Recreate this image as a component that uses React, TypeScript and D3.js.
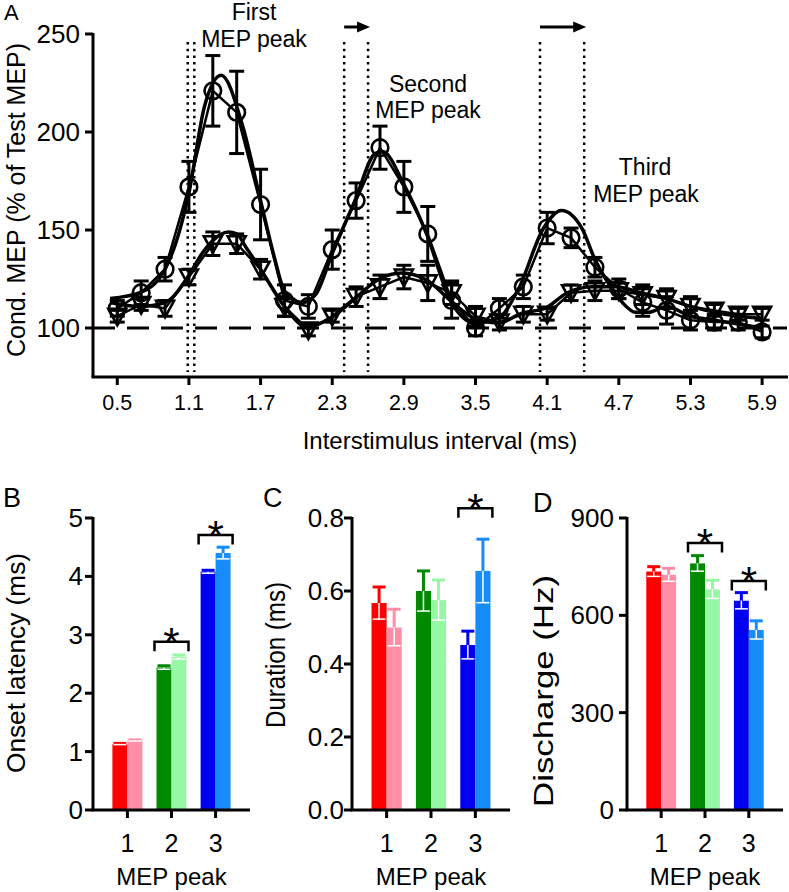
import React from 'react';
import * as d3 from 'd3';

// ---------- Panel A data ----------
const ISI = [0.5, 0.7, 0.9, 1.1, 1.3, 1.5, 1.7, 1.9, 2.1, 2.3, 2.5, 2.7, 2.9, 3.1, 3.3, 3.5, 3.7, 3.9, 4.1, 4.3, 4.5, 4.7, 4.9, 5.1, 5.3, 5.5, 5.7, 5.9];
const CIRCLE_MEAN = [110, 118, 130, 172, 221, 210, 163, 114, 111, 140, 165, 192, 172, 148, 114, 100, 110, 121, 151, 146, 131, 120, 113, 109, 104, 103, 103, 98];
const CIRCLE_SE = [4, 6, 6, 13, 18, 21, 18, 8, 6, 10, 9, 11, 13, 14, 9, 4, 5, 6, 8, 5, 5, 5, 7, 7, 5, 4, 4, 3];
const TRI_MEAN = [106, 112, 110, 126, 143, 143, 130, 111, 99, 106, 116, 121, 126, 123, 118, 106, 103, 107, 107, 118, 119, 119, 117, 115, 111, 109, 107, 107];
const TRI_SE = [3, 3, 4, 4, 6, 5, 5, 5, 3, 3, 5, 6, 6, 9, 6, 5, 4, 4, 3, 4, 5, 4, 5, 5, 5, 3, 3, 3];

const CIRCLE_FIT_X = [0.44, 0.69, 0.9, 1.1, 1.23, 1.37, 1.55, 1.7, 1.82, 1.9, 2.05, 2.16, 2.3, 2.49, 2.66, 2.72, 2.91, 3.09, 3.29, 3.5, 3.69, 3.86, 4.07, 4.22, 4.39, 4.5, 4.61, 4.73, 4.84, 4.95, 5.1, 5.3, 5.5, 5.7, 5.9];
const CIRCLE_FIT_Y = [115, 118, 130, 169, 213, 229, 203, 165, 135, 119, 113, 117, 138, 165, 189, 190, 172, 148, 114, 102.5, 105, 120, 151, 160, 151, 135, 123, 113, 108, 108, 111, 106, 104, 102, 100];
const TRI_FIT_X = [0.44, 0.69, 0.9, 1.09, 1.21, 1.29, 1.43, 1.5, 1.58, 1.7, 1.9, 2.09, 2.3, 2.49, 2.68, 2.88, 3.09, 3.29, 3.47, 3.69, 3.89, 4.08, 4.27, 4.48, 4.68, 4.88, 5.1, 5.3, 5.5, 5.7, 5.9];
const TRI_FIT_Y = [113, 111, 113, 126, 138, 144, 149, 148, 141, 130, 111, 100.5, 105.6, 115, 124.5, 128, 124.5, 114, 105.6, 102.5, 107.6, 110, 118, 121, 121, 118, 115, 111, 108, 106, 105];

const A_X_TICKS = [0.5, 1.1, 1.7, 2.3, 2.9, 3.5, 4.1, 4.7, 5.3, 5.9];
const A_Y_TICKS = [100, 150, 200, 250];
const PERIOD_LINES = [1.09, 1.145, 2.4, 2.6, 4.04, 4.41];
const ARROW_FROM = [2.4, 4.04];
const ARROW_TO = [2.6, 4.41];
const BASELINE_VALUE = 100;

// ---------- Panels B-D data ----------
const PEAKS = ['1', '2', '3'];
const DARK_COLORS = ['#ff0000', '#008a00', '#0000f0'];
const LIGHT_COLORS = ['#ff8ea6', '#96f7a4', '#168cfa'];

const LATENCY_MEAN_1 = [1.13, 2.44, 4.08];
const LATENCY_SE_1 = [0.01, 0.03, 0.025];
const LATENCY_MEAN_2 = [1.19, 2.62, 4.4];
const LATENCY_SE_2 = [0.01, 0.035, 0.1];
const LATENCY_TICKS = [0, 1, 2, 3, 4, 5];
const LATENCY_SIG_PEAKS = ['2', '3'];
const LATENCY_SIG_Y = [2.88, 4.71];

const DURATION_MEAN_1 = [0.567, 0.6, 0.452];
const DURATION_SE_1 = [0.044, 0.055, 0.038];
const DURATION_MEAN_2 = [0.5, 0.575, 0.655];
const DURATION_SE_2 = [0.05, 0.055, 0.087];
const DURATION_TICKS = [0, 0.2, 0.4, 0.6, 0.8];
const DURATION_SIG_PEAKS = ['3'];
const DURATION_SIG_Y = [0.827];

const DISCHARGE_MEAN_1 = [735, 760, 645];
const DISCHARGE_SE_1 = [15, 24, 25];
const DISCHARGE_MEAN_2 = [725, 680, 555];
const DISCHARGE_SE_2 = [20, 28, 28];
const DISCHARGE_TICKS = [0, 300, 600, 900];
const DISCHARGE_SIG_PEAKS = ['2', '3'];
const DISCHARGE_SIG_Y = [823, 706];

const FONT = '"Liberation Sans", Arial, Helvetica, sans-serif';

function PanelA() {
  const x = d3.scaleLinear().domain([0.3, 6.1]).range([93.4, 786]);
  const y = d3.scaleLinear().domain([75, 250]).range([377, 34]);
  const fitLine = d3.line<[number, number]>().x(d => x(d[0])).y(d => y(d[1])).curve(d3.curveMonotoneX);
  const polyLine = d3.line<[number, number]>().x(d => x(d[0])).y(d => y(d[1]));
  const circFit = fitLine(CIRCLE_FIT_X.map((v, i) => [v, CIRCLE_FIT_Y[i]]) as [number, number][]) || '';
  const triFit = fitLine(TRI_FIT_X.map((v, i) => [v, TRI_FIT_Y[i]]) as [number, number][]) || '';
  const circPoly = polyLine(ISI.map((v, i) => [v, CIRCLE_MEAN[i]]) as [number, number][]) || '';
  const triPoly = polyLine(ISI.map((v, i) => [v, TRI_MEAN[i]]) as [number, number][]) || '';
  const capW = 7.5;
  const y0 = 377;
  return (
    <g>
      <text x={4} y={20} fontSize={22}>A</text>
      <text transform={`translate(25,200) rotate(-90)`} textAnchor="middle" fontSize={26} textLength={314} lengthAdjust="spacingAndGlyphs">Cond. MEP (% of Test MEP)</text>
      {PERIOD_LINES.map((v, i) => (
        <line key={'pl' + i} x1={x(v)} x2={x(v)} y1={42} y2={372} stroke="#000" strokeWidth={2.5} strokeDasharray="2.5 4.2" />
      ))}
      {ARROW_FROM.map((v, i) => {
        const x1 = x(v);
        const x2 = x(ARROW_TO[i]) + 2;
        return (
          <g key={'ar' + i}>
            <line x1={x1} x2={x2 - 10} y1={27} y2={27} stroke="#000" strokeWidth={3} />
            <polygon points={`${x2},27 ${x2 - 13},21.5 ${x2 - 13},32.5`} fill="#000" />
          </g>
        );
      })}
      <line x1={93} x2={787} y1={y(BASELINE_VALUE)} y2={y(BASELINE_VALUE)} stroke="#000" strokeWidth={3} strokeDasharray="22 12" />
      <path d={circFit} fill="none" stroke="#000" strokeWidth={3.5} />
      <path d={triFit} fill="none" stroke="#000" strokeWidth={3.5} />
      <path d={circPoly} fill="none" stroke="#000" strokeWidth={2.5} />
      <path d={triPoly} fill="none" stroke="#000" strokeWidth={2.5} />
      {ISI.map((v, i) => (
        <g key={'ec' + i} stroke="#000" strokeWidth={3}>
          <line x1={x(v)} x2={x(v)} y1={y(CIRCLE_MEAN[i] - CIRCLE_SE[i])} y2={y(CIRCLE_MEAN[i] + CIRCLE_SE[i])} />
          <line x1={x(v) - capW} x2={x(v) + capW} y1={y(CIRCLE_MEAN[i] + CIRCLE_SE[i])} y2={y(CIRCLE_MEAN[i] + CIRCLE_SE[i])} />
          <line x1={x(v) - capW} x2={x(v) + capW} y1={y(CIRCLE_MEAN[i] - CIRCLE_SE[i])} y2={y(CIRCLE_MEAN[i] - CIRCLE_SE[i])} />
        </g>
      ))}
      {ISI.map((v, i) => (
        <g key={'et' + i} stroke="#000" strokeWidth={3}>
          <line x1={x(v)} x2={x(v)} y1={y(TRI_MEAN[i] - TRI_SE[i])} y2={y(TRI_MEAN[i] + TRI_SE[i])} />
          <line x1={x(v) - capW} x2={x(v) + capW} y1={y(TRI_MEAN[i] + TRI_SE[i])} y2={y(TRI_MEAN[i] + TRI_SE[i])} />
          <line x1={x(v) - capW} x2={x(v) + capW} y1={y(TRI_MEAN[i] - TRI_SE[i])} y2={y(TRI_MEAN[i] - TRI_SE[i])} />
        </g>
      ))}
      {ISI.map((v, i) => {
        const cx = x(v);
        const cy = y(TRI_MEAN[i]);
        return <polygon key={'tm' + i} points={`${cx - 9},${cy - 7.5} ${cx + 9},${cy - 7.5} ${cx},${cy + 9}`} fill="none" stroke="#000" strokeWidth={2.6} strokeLinejoin="miter" />;
      })}
      {ISI.map((v, i) => (
        <circle key={'cm' + i} cx={x(v)} cy={y(CIRCLE_MEAN[i])} r={8.3} fill="none" stroke="#000" strokeWidth={2.6} />
      ))}
      <line x1={93} x2={93} y1={33} y2={y0} stroke="#000" strokeWidth={3} />
      <line x1={91.5} x2={788} y1={y0} y2={y0} stroke="#000" strokeWidth={3} />
      {A_Y_TICKS.map(t => (
        <g key={'ay' + t}>
          <line x1={85} x2={93} y1={y(t)} y2={y(t)} stroke="#000" strokeWidth={3} />
          <text x={80} y={y(t) + 9} textAnchor="end" fontSize={26}>{t}</text>
        </g>
      ))}
      {A_X_TICKS.map(t => (
        <g key={'ax' + t}>
          <line x1={x(t)} x2={x(t)} y1={y0} y2={y0 + 8} stroke="#000" strokeWidth={3} />
          <text x={x(t)} y={410} textAnchor="middle" fontSize={21.5}>{t.toFixed(1)}</text>
        </g>
      ))}
      <text x={440} y={449} textAnchor="middle" fontSize={24}>Interstimulus interval (ms)</text>
      <text x={254} y={20} textAnchor="middle" fontSize={23}>First</text>
      <text x={254} y={47} textAnchor="middle" fontSize={23}>MEP peak</text>
      <text x={428} y={92} textAnchor="middle" fontSize={23}>Second</text>
      <text x={428} y={118} textAnchor="middle" fontSize={23}>MEP peak</text>
      <text x={645} y={175} textAnchor="middle" fontSize={23}>Third</text>
      <text x={646} y={202} textAnchor="middle" fontSize={23}>MEP peak</text>
    </g>
  );
}

type BarProps = {
  left: number;
  right: number;
  domainMax: number;
  ticks: number[];
  fmt: (v: number) => string;
  m1: number[]; s1: number[]; m2: number[]; s2: number[];
  sigPeaks: string[]; sigY: number[];
  label: string; labelX: number; labelY: number;
  title: string; titleX: number; titleY: number; titleLength: number; titleSize: number;
  tickGap: number;
};

function BarPanel(p: BarProps) {
  const yB = 810;
  const yT = 518;
  const y = d3.scaleLinear().domain([0, p.domainMax]).range([yB, yT]);
  const xb = d3.scaleBand<string>().domain(PEAKS).range([p.left, p.right]).paddingInner(0.32).paddingOuter(0.44);
  const bw = xb.bandwidth() / 2;
  const capW = 6.5;
  const bars: any[] = [];
  PEAKS.forEach((pk, i) => {
    const c = (xb(pk) || 0) + xb.bandwidth() / 2;
    [[p.m1[i], p.s1[i], DARK_COLORS[i], c - bw], [p.m2[i], p.s2[i], LIGHT_COLORS[i], c]].forEach((b: any, j) => {
      const [m, s, col, x0] = b;
      const xc = x0 + bw / 2;
      bars.push(
        <g key={pk + '-' + j}>
          <rect x={x0} y={y(m)} width={bw} height={yB - y(m)} fill={col} />
          <line x1={xc} x2={xc} y1={y(m)} y2={y(m + s)} stroke={col} strokeWidth={3} />
          <line x1={xc - capW} x2={xc + capW} y1={y(m + s)} y2={y(m + s)} stroke={col} strokeWidth={3} />
          <line x1={xc} x2={xc} y1={y(m)} y2={y(m - s)} stroke="#fff" strokeWidth={1.5} />
          <line x1={xc - capW} x2={xc + capW} y1={y(m - s)} y2={y(m - s)} stroke="#fff" strokeWidth={1.5} />
        </g>
      );
    });
  });
  return (
    <g>
      <text x={p.labelX} y={p.labelY} fontSize={27}>{p.label}</text>
      <text
        transform={`translate(${p.titleX},${p.titleY}) rotate(-90)`}
        textAnchor="middle"
        fontSize={p.titleSize}
        textLength={p.titleLength}
        lengthAdjust="spacingAndGlyphs"
      >{p.title}</text>
      {bars}
      {p.sigPeaks.map((pk, i) => {
        const c = (xb(pk) || 0) + xb.bandwidth() / 2;
        const by = y(p.sigY[i]);
        const hw = 17;
        return (
          <g key={'sig' + pk}>
            <path d={`M${c - hw},${by + 9.5}V${by}H${c + hw}V${by + 9.5}`} fill="none" stroke="#000" strokeWidth={2.5} />
            <text x={c} y={by + 15} textAnchor="middle" fontSize={42}>*</text>
          </g>
        );
      })}
      <line x1={p.left} x2={p.left} y1={yT - 1} y2={yB} stroke="#000" strokeWidth={3} />
      <line x1={p.left - 1.5} x2={p.right} y1={yB} y2={yB} stroke="#000" strokeWidth={3} />
      {p.ticks.map(t => (
        <g key={'yt' + t}>
          <line x1={p.left - 8} x2={p.left} y1={y(t)} y2={y(t)} stroke="#000" strokeWidth={3} />
          <text x={p.left - 8 - p.tickGap} y={y(t) + 9} textAnchor="end" fontSize={26}>{p.fmt(t)}</text>
        </g>
      ))}
      {PEAKS.map(pk => {
        const c = (xb(pk) || 0) + xb.bandwidth() / 2;
        return (
          <g key={'xt' + pk}>
            <line x1={c} x2={c} y1={yB} y2={yB + 8} stroke="#000" strokeWidth={3} />
            <text x={c} y={852} textAnchor="middle" fontSize={25}>{pk}</text>
          </g>
        );
      })}
      <text x={(p.left + p.right) / 2} y={885} textAnchor="middle" fontSize={24}>MEP peak</text>
    </g>
  );
}

export default function App() {
  return (
    <svg
      width={789}
      height={892}
      viewBox="0 0 789 892"
      style={{ position: 'absolute', left: 0, top: 0, background: '#fff' }}
      fontFamily={FONT}
    >
      <rect x={0} y={0} width={789} height={892} fill="#fff" />
      <PanelA />
      <BarPanel
        left={93} right={250} domainMax={5} ticks={LATENCY_TICKS} fmt={v => String(v)}
        m1={LATENCY_MEAN_1} s1={LATENCY_SE_1} m2={LATENCY_MEAN_2} s2={LATENCY_SE_2}
        sigPeaks={LATENCY_SIG_PEAKS} sigY={LATENCY_SIG_Y}
        label="B" labelX={3} labelY={507}
        title="Onset latency (ms)" titleX={25} titleY={663} titleLength={220} titleSize={26}
        tickGap={2}
      />
      <BarPanel
        left={352} right={510} domainMax={0.8} ticks={DURATION_TICKS} fmt={v => v.toFixed(1)}
        m1={DURATION_MEAN_1} s1={DURATION_SE_1} m2={DURATION_MEAN_2} s2={DURATION_SE_2}
        sigPeaks={DURATION_SIG_PEAKS} sigY={DURATION_SIG_Y}
        label="C" labelX={263} labelY={507}
        title="Duration (ms)" titleX={285} titleY={655} titleLength={146} titleSize={28}
        tickGap={0}
      />
      <BarPanel
        left={627} right={783} domainMax={900} ticks={DISCHARGE_TICKS} fmt={v => String(v)}
        m1={DISCHARGE_MEAN_1} s1={DISCHARGE_SE_1} m2={DISCHARGE_MEAN_2} s2={DISCHARGE_SE_2}
        sigPeaks={DISCHARGE_SIG_PEAKS} sigY={DISCHARGE_SIG_Y}
        label="D" labelX={533} labelY={512}
        title="Discharge (Hz)" titleX={553} titleY={691} titleLength={232} titleSize={28}
        tickGap={5}
      />
    </svg>
  );
}
